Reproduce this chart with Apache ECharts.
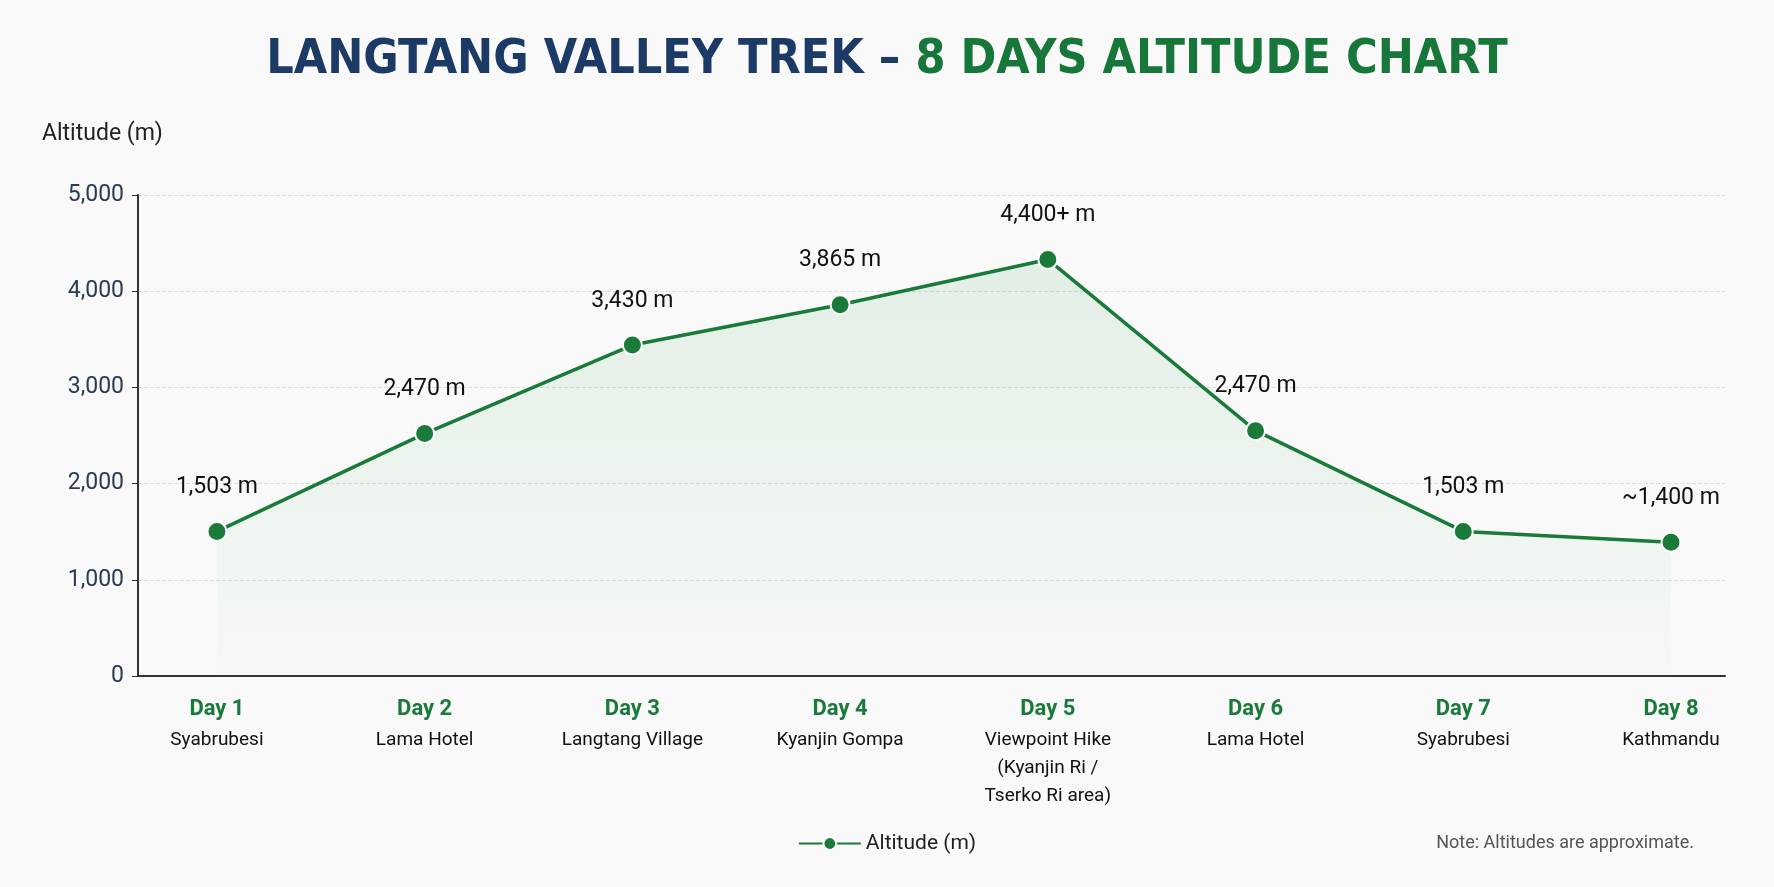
<!DOCTYPE html>
<html><head><meta charset="utf-8">
<script src="https://cdn.jsdelivr.net/npm/echarts@6/dist/echarts.min.js"></script>
<style>html,body{margin:0;background:#f8f9f8}#c{width:1774px;height:887px}</style>
</head><body><div id="c"></div>
<script>
const days = ['Day 1','Day 2','Day 3','Day 4','Day 5','Day 6','Day 7','Day 8'];
const places = ['Syabrubesi','Lama Hotel','Langtang Village','Kyanjin Gompa','Viewpoint Hike\n(Kyanjin Ri /\nTserko Ri area)','Lama Hotel','Syabrubesi','Kathmandu'];
const altitudes = [1503, 2520, 3440, 3860, 4330, 2550, 1503, 1390];
const pointLabels = ['1,503 m','2,470 m','3,430 m','3,865 m','4,400+ m','2,470 m','1,503 m','~1,400 m'];
const yTicks = [0,1000,2000,3000,4000,5000];

const green = '#1a7a3a';
const chart = echarts.init(document.getElementById('c'));
chart.setOption({
  backgroundColor:'#f8f9f8',
  textStyle:{fontFamily:'Roboto, "Noto Sans", sans-serif'},
  title:{
    text:'{a|LANGTANG VALLEY TREK – }{b|8 DAYS ALTITUDE CHART}',
    left:'center', top:32,
    textStyle:{rich:{
      a:{fontSize:48,fontWeight:'bold',color:'#1c3a66',fontFamily:'"Liberation Sans Narrow","DejaVu Sans Condensed",sans-serif'},
      b:{fontSize:48,fontWeight:'bold',color:'#17773a',fontFamily:'"Liberation Sans Narrow","DejaVu Sans Condensed",sans-serif'}
    }}
  },
  grid:{left:138,right:49,top:195,bottom:211},
  legend:{bottom:28,left:'center',itemWidth:62,itemHeight:16,
    textStyle:{fontSize:21,color:'#222'},data:['Altitude (m)']},
  graphic:[{type:'text',right:80,bottom:35,style:{text:'Note: Altitudes are approximate.',fontSize:18,fill:'#555',fontFamily:'Roboto, sans-serif'}},
    {type:'text',left:42,top:123,style:{text:'Altitude (m)',fontSize:23,fill:'#222',fontFamily:'Roboto, sans-serif'}}],
  xAxis:{type:'value',min:0.62,max:8.26,
    axisLine:{show:true,lineStyle:{color:'#333',width:2}},
    axisTick:{show:false},splitLine:{show:false},
    axisLabel:{customValues:[1,2,3,4,5,6,7,8],margin:16,verticalAlign:'top',lineHeight:26,
      formatter:v=>{const i=Math.round(v)-1;return '{d|'+days[i]+'}\n{p|'+places[i].split('\n').join('}\n{p|')+'}';},
      rich:{d:{fontSize:22,fontWeight:'bold',color:green,lineHeight:34},p:{fontSize:19,color:'#111',lineHeight:28}}}
  },
  yAxis:{type:'value',min:0,max:5000,interval:1000,
    axisLine:{show:true,lineStyle:{color:'#333',width:2}},
    axisTick:{show:true,length:6,lineStyle:{color:'#333'}},
    axisLabel:{fontSize:23,color:'#2b3a55',margin:14,formatter:v=>v.toLocaleString('en-US')},
    splitLine:{show:true,lineStyle:{type:'dashed',color:'#dcdcdc'}}
  },
  series:[{name:'Altitude (m)',type:'line',
    data:altitudes.map((v,i)=>[i+1,v]),
    symbol:'circle',symbolSize:19,
    lineStyle:{color:green,width:3.5},
    itemStyle:{color:green,borderColor:'#fff',borderWidth:2},
    areaStyle:{color:new echarts.graphic.LinearGradient(0,0,0,1,[{offset:0,color:'rgba(40,150,70,0.15)'},{offset:1,color:'rgba(40,150,70,0.01)'}])},
    label:{show:true,position:'top',distance:22,fontSize:23,color:'#111',
      formatter:p=>pointLabels[p.dataIndex]}
  }]
});
</script></body></html>
